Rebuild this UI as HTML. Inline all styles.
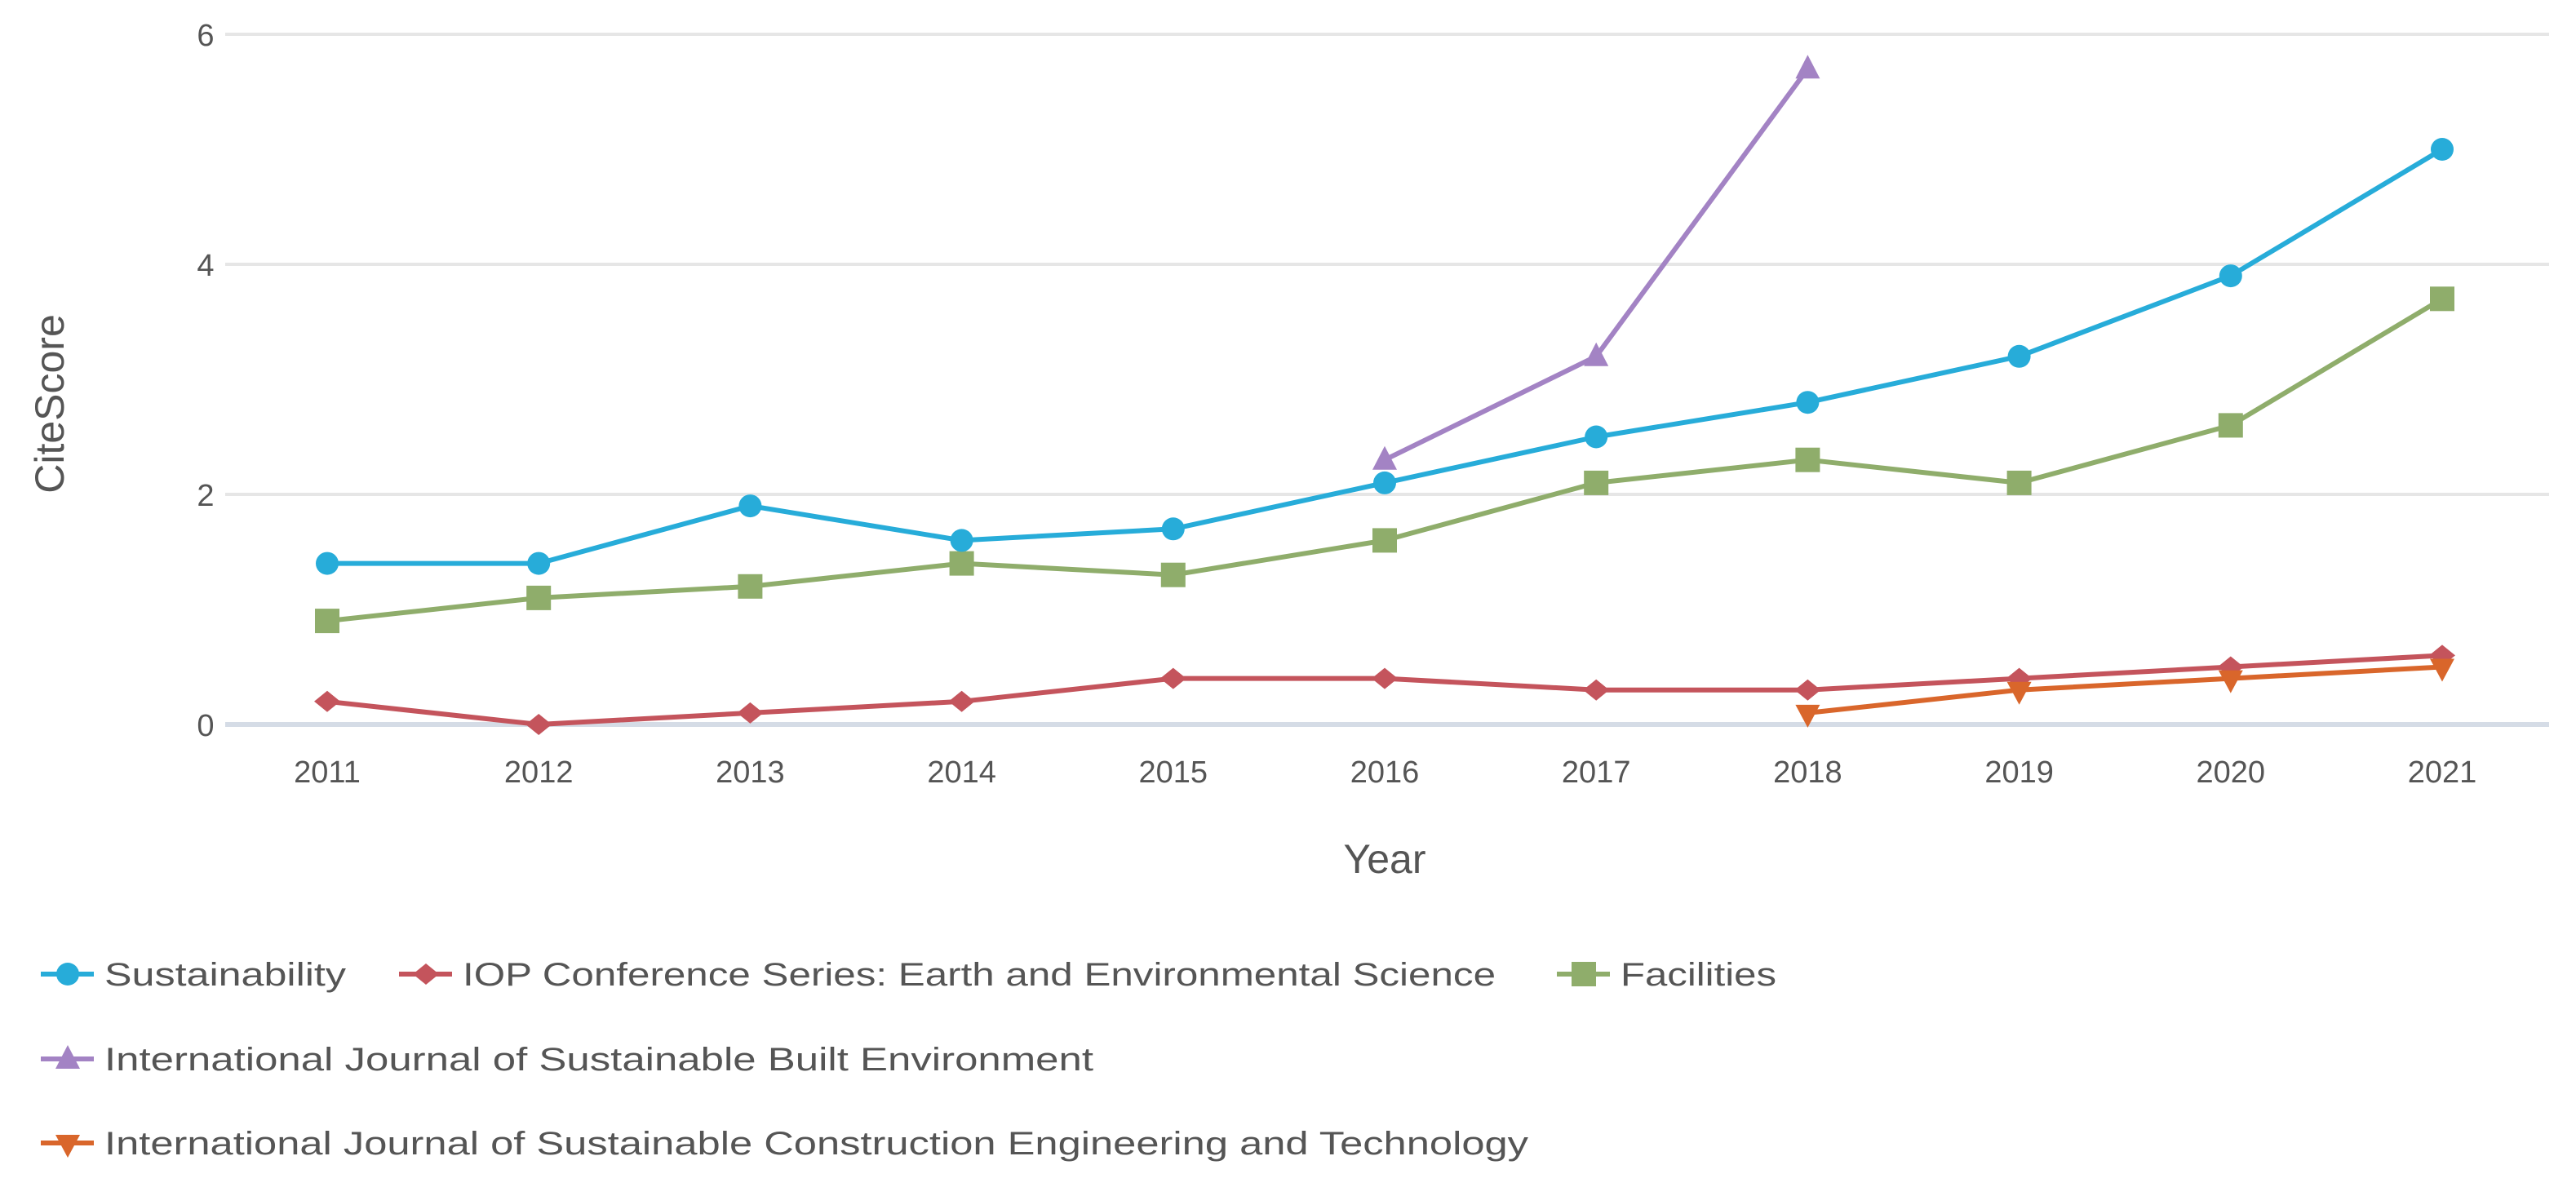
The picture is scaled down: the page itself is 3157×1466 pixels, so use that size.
<!DOCTYPE html>
<html><head><meta charset="utf-8">
<style>
html,body{margin:0;padding:0;background:#fff;}
svg{display:block;font-family:"Liberation Sans",sans-serif;}
</style></head>
<body>
<svg id="chart" width="3157" height="1466" viewBox="0 0 3157 1466" xmlns="http://www.w3.org/2000/svg">
<g id="grid"></g>
<g id="yticks"></g>
<g id="xticks"></g>
<text x="0" y="0" transform="translate(78,495) rotate(-90)" text-anchor="middle" font-size="50" fill="#555">CiteScore</text>
<text x="1697" y="1070" text-anchor="middle" font-size="50" fill="#555">Year</text>
<g id="series"></g>
<g id="legend"></g>
</svg>
<script>
const years = [2011,2012,2013,2014,2015,2016,2017,2018,2019,2020,2021];
const yTicks = [0,2,4,6];
const sustainability = [1.4,1.4,1.9,1.6,1.7,2.1,2.5,2.8,3.2,3.9,5.0];
const iop = [0.2,0.0,0.1,0.2,0.4,0.4,0.3,0.3,0.4,0.5,0.6];
const facilities = [0.9,1.1,1.2,1.4,1.3,1.6,2.1,2.3,2.1,2.6,3.7];
const ijsbe = [null,null,null,null,null,2.3,3.2,5.7,null,null,null];
const ijscet = [null,null,null,null,null,null,null,0.1,0.3,0.4,0.5];
const seriesNames = ["Sustainability","IOP Conference Series: Earth and Environmental Science","Facilities","International Journal of Sustainable Built Environment","International Journal of Sustainable Construction Engineering and Technology"];

const NS="http://www.w3.org/2000/svg";
const L=276,R=3124,Y0=888,Y6=42;
const x0=401,x1=2993;
function xs(i){return x0+(x1-x0)*i/(years.length-1);}
function ys(v){return Y0-(Y0-Y6)*v/6;}
function mk(tag,attrs,parent){const e=document.createElementNS(NS,tag);for(const k in attrs)e.setAttribute(k,attrs[k]);parent.appendChild(e);return e;}

const grid=document.getElementById('grid'),yt=document.getElementById('yticks'),xt=document.getElementById('xticks');
yTicks.forEach(v=>{
  const ln=mk('line',{x1:L,x2:R,y1:ys(v),y2:ys(v),stroke:v===0?'#d5dce6':'#e6e6e6','stroke-width':v===0?6:4},grid);
  
  
  const t=mk('text',{x:252,y:ys(v)+14,'text-anchor':'middle','font-size':38,fill:'#555'},yt);
  t.textContent=v;
  
  
});
years.forEach((y,i)=>{
  const t=mk('text',{x:xs(i),y:959,'text-anchor':'middle','font-size':38,fill:'#555'},xt);
  t.textContent=y;
  
  
});

const colors=['#27acd9','#c4545c','#8fad6b','#a383c4','#d9662b'];
const shapes=['circle','diamond','square','triangle','tridown'];
function marker(shape,cx,cy,color,parent){
  if(shape==='circle')return mk('circle',{cx:cx,cy:cy,r:14,fill:color},parent);
  if(shape==='square')return mk('rect',{x:cx-15,y:cy-15,width:30,height:30,fill:color},parent);
  let p;
  if(shape==='diamond')p=[[cx,cy-13],[cx+16,cy],[cx,cy+13],[cx-16,cy]];
  if(shape==='triangle')p=[[cx,cy-17],[cx+15,cy+12],[cx-15,cy+12]];
  if(shape==='tridown')p=[[cx-15,cy-10],[cx+15,cy-10],[cx,cy+18]];
  return mk('polygon',{points:p.map(a=>a.join(',')).join(' '),fill:color},parent);
}
const data=[sustainability,iop,facilities,ijsbe,ijscet];
const sg=document.getElementById('series');
const order=[1,4,2,0,3];
order.forEach(si=>{
  const arr=data[si];
  const g=mk('g',{},sg);
  
  
  const pts=[];
  arr.forEach((v,i)=>{if(v!==null)pts.push([xs(i),ys(v)]);});
  const pl=mk('polyline',{points:pts.map(p=>p.join(',')).join(' '),fill:'none',stroke:colors[si],'stroke-width':6,'stroke-linejoin':'round'},g);
  
  
  pts.forEach(p=>{
    const m=marker(shapes[si],p[0],p[1],colors[si],g);
    
    
  });
});

const lg=document.getElementById('legend');
const legPos=[[50,1194],[489,1194],[1908,1194],[50,1298],[50,1401]];
const legW=[296,1266,191,1212,1745];
seriesNames.forEach((n,i)=>{
  const g=mk('g',{},lg);
  
  
  const [lx,ly]=legPos[i];
  mk('line',{x1:lx,x2:lx+65,y1:ly,y2:ly,stroke:colors[i],'stroke-width':6},g);
  marker(shapes[i],lx+33,ly,colors[i],g);
  const t=mk('text',{x:lx+78,y:ly+14,'font-size':40,fill:'#555',textLength:legW[i],lengthAdjust:'spacingAndGlyphs'},g);
  t.textContent=n;
});
</script>
</body></html>
